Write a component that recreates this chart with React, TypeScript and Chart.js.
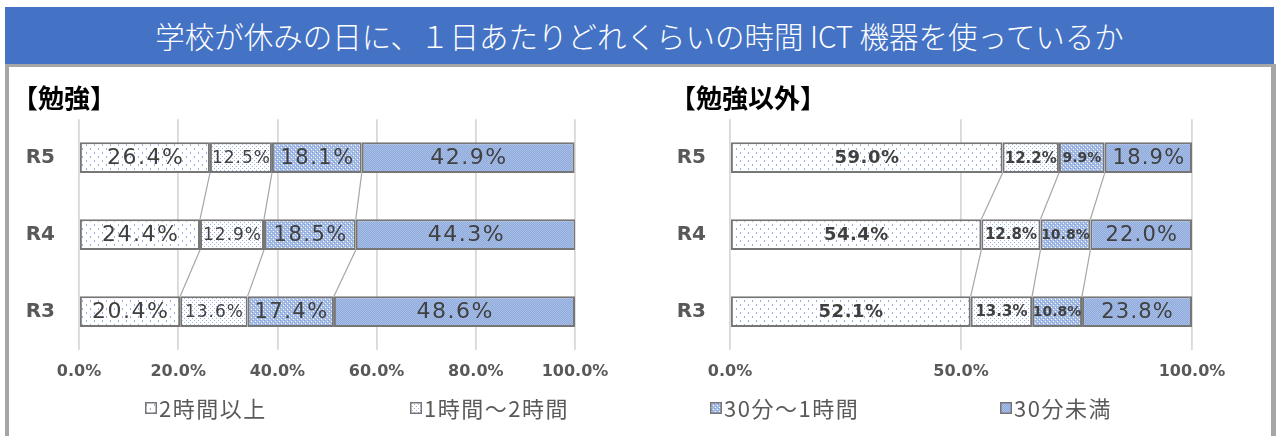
import React, { useEffect, useRef } from 'react';
import { Chart, registerables } from 'chart.js';

Chart.register(...registerables);

const pageTitle = '学校が休みの日に、１日あたりどれくらいの時間 ICT 機器を使っているか';
const categories = ['R5', 'R4', 'R3'];
const seriesNames = ['2時間以上', '1時間～2時間', '30分～1時間', '30分未満'];

const studyTitle = '【勉強】';
const studyOver2h = [26.4, 24.4, 20.4];
const study1to2h = [12.5, 12.9, 13.6];
const study30mTo1h = [18.1, 18.5, 17.4];
const studyUnder30m = [42.9, 44.3, 48.6];
const studyTicks = [0, 20, 40, 60, 80, 100];

const otherTitle = '【勉強以外】';
const otherOver2h = [59.0, 54.4, 52.1];
const other1to2h = [12.2, 12.8, 13.3];
const other30mTo1h = [9.9, 10.8, 10.8];
const otherUnder30m = [18.9, 22.0, 23.8];
const otherTicks = [0, 50, 100];

const FONT = '"Noto Sans CJK JP", "Noto Sans", sans-serif';
const NUMFONT = '"DejaVu Sans", "Noto Sans", sans-serif';

function makePattern(kind: number): CanvasPattern {
  const c = document.createElement('canvas');
  const ctx = c.getContext('2d')!;
  if (kind === 0) {
    c.width = 8; c.height = 8;
    ctx.fillStyle = '#ffffff'; ctx.fillRect(0, 0, 8, 8);
    ctx.fillStyle = '#94aede';
    ctx.fillRect(0, 0, 1, 2); ctx.fillRect(4, 4, 1, 2);
  } else if (kind === 1) {
    c.width = 4; c.height = 4;
    ctx.fillStyle = '#ffffff'; ctx.fillRect(0, 0, 4, 4);
    ctx.fillStyle = '#9cb4e2';
    ctx.fillRect(0, 0, 1, 1); ctx.fillRect(2, 2, 1, 1);
  } else if (kind === 2) {
    c.width = 4; c.height = 4;
    ctx.fillStyle = '#a4bbe5'; ctx.fillRect(0, 0, 4, 4);
    ctx.fillStyle = '#ffffff';
    ctx.fillRect(1, 1, 1, 1); ctx.fillRect(3, 3, 1, 1);
    ctx.fillStyle = '#86a3d8';
    ctx.fillRect(0, 2, 1, 1); ctx.fillRect(2, 0, 1, 1);
  } else {
    c.width = 2; c.height = 2;
    ctx.fillStyle = '#8eaadb'; ctx.fillRect(0, 0, 2, 2);
    ctx.fillStyle = '#aabfe7';
    ctx.fillRect(0, 0, 1, 1); ctx.fillRect(1, 1, 1, 1);
  }
  return ctx.createPattern(c, 'repeat')!;
}

type LabelFont = { size: number; weight: string; spacing: number };

type Spec = {
  title: string;
  values: number[][];
  ticks: number[];
  padLeft: number;
  yWidth: number;
  padRight: number;
  labelFonts: LabelFont[];
  legendItems: { index: number; x: number }[];
};

function buildConfig(spec: Spec): any {
  const patterns = [0, 1, 2, 3].map(makePattern);
  const datasets = spec.values.map((vals, i) => ({
    label: seriesNames[i],
    data: vals,
    backgroundColor: patterns[i],
    borderColor: '#767676',
    borderWidth: 2,
    borderSkipped: false,
    barPercentage: 0.4,
    categoryPercentage: 1,
  }));

  const overlay = {
    id: 'overlay',
    afterDatasetsDraw(chart: any) {
      const ctx = chart.ctx as any;
      ctx.save();
      ctx.strokeStyle = '#a6a6a6';
      ctx.lineWidth = 1.2;
      for (let di = 0; di < chart.data.datasets.length - 1; di++) {
        const meta = chart.getDatasetMeta(di);
        for (let i = 0; i < meta.data.length - 1; i++) {
          const a = meta.data[i];
          const b = meta.data[i + 1];
          ctx.beginPath();
          ctx.moveTo(a.x, a.y + a.height / 2);
          ctx.lineTo(b.x, b.y - b.height / 2);
          ctx.stroke();
        }
      }
      ctx.fillStyle = '#404040';
      ctx.textAlign = 'center';
      ctx.textBaseline = 'middle';
      chart.data.datasets.forEach((ds: any, di: number) => {
        const meta = chart.getDatasetMeta(di);
        const f = spec.labelFonts[di];
        ctx.font = `${f.weight} ${f.size}px ${NUMFONT}`;
        ctx.letterSpacing = `${f.spacing}px`;
        meta.data.forEach((bar: any, i: number) => {
          const cx = (bar.x + bar.base) / 2 + f.spacing / 2;
          ctx.fillText(Number(ds.data[i]).toFixed(1) + '%', cx, bar.y + 1);
        });
      });
      ctx.restore();
    },
    afterDraw(chart: any) {
      const ctx = chart.ctx as any;
      const ly = chart.chartArea.bottom + 58;
      ctx.save();
      spec.legendItems.forEach((item) => {
        const ds = chart.data.datasets[item.index];
        ctx.fillStyle = ds.backgroundColor;
        ctx.fillRect(item.x, ly - 6, 12, 12);
        ctx.strokeStyle = '#767676';
        ctx.lineWidth = 1.5;
        ctx.strokeRect(item.x + 0.75, ly - 5.25, 10.5, 10.5);
        ctx.fillStyle = '#595959';
        ctx.font = `normal 22px ${FONT}`;
        ctx.letterSpacing = '1.5px';
        ctx.textAlign = 'left';
        ctx.textBaseline = 'middle';
        ctx.fillText(ds.label, item.x + 14, ly + 1);
      });
      ctx.restore();
    },
  };

  return {
    type: 'bar',
    data: { labels: categories, datasets },
    plugins: [overlay],
    options: {
      indexAxis: 'y',
      responsive: false,
      animation: false,
      layout: { padding: { left: spec.padLeft, right: spec.padRight, top: 0, bottom: 46 } },
      plugins: {
        legend: { display: false },
        tooltip: { enabled: false },
        title: {
          display: true,
          text: spec.title,
          align: 'start',
          color: '#000000',
          font: { family: FONT, size: 26, weight: 'bold', lineHeight: 1.2 },
          padding: { top: 15, bottom: 5 },
        },
      },
      scales: {
        x: {
          stacked: true,
          min: 0,
          max: 100,
          border: { display: false },
          grid: { color: '#d9d9d9', lineWidth: 1.8, drawTicks: false },
          afterBuildTicks: (scale: any) => {
            scale.ticks = spec.ticks.map((v) => ({ value: v }));
          },
          afterFit: (scale: any) => { scale.height = 40; },
          ticks: {
            padding: 12,
            color: '#595959',
            font: { family: NUMFONT, size: 16, weight: 'bold' },
            callback: (v: any) => Number(v).toFixed(1) + '%',
            maxRotation: 0,
            autoSkip: false,
          },
        },
        y: {
          stacked: true,
          border: { display: false },
          grid: { display: false, drawTicks: false },
          afterFit: (scale: any) => { scale.width = spec.yWidth; },
          ticks: {
            padding: 24,
            color: '#595959',
            font: { family: NUMFONT, size: 20, weight: 'bold' },
          },
        },
      },
    },
  };
}

function BarChart({ spec, left }: { spec: Spec; left: number }) {
  const ref = useRef<HTMLCanvasElement>(null);
  useEffect(() => {
    const chart = new Chart(ref.current!, buildConfig(spec));
    return () => chart.destroy();
  }, []);
  return (
    <canvas
      ref={ref}
      width={630}
      height={368}
      style={{ position: 'fixed', left, top: 68, width: 630, height: 368 }}
    />
  );
}

const studySpec: Spec = {
  title: studyTitle,
  values: [studyOver2h, study1to2h, study30mTo1h, studyUnder30m],
  ticks: studyTicks,
  padLeft: 2,
  yWidth: 67,
  padRight: 65,
  labelFonts: [
    { size: 22, weight: 'normal', spacing: 1.5 },
    { size: 17, weight: 'normal', spacing: 1 },
    { size: 21, weight: 'normal', spacing: 1.5 },
    { size: 22, weight: 'normal', spacing: 1.5 },
  ],
  legendItems: [
    { index: 0, x: 135 },
    { index: 1, x: 400 },
  ],
};

const otherSpec: Spec = {
  title: otherTitle,
  values: [otherOver2h, other1to2h, other30mTo1h, otherUnder30m],
  ticks: otherTicks,
  padLeft: 30,
  yWidth: 60,
  padRight: 78,
  labelFonts: [
    { size: 18, weight: 'bold', spacing: 0.5 },
    { size: 15, weight: 'bold', spacing: 0 },
    { size: 14, weight: 'bold', spacing: 0 },
    { size: 21, weight: 'normal', spacing: 1.2 },
  ],
  legendItems: [
    { index: 2, x: 70 },
    { index: 3, x: 360 },
  ],
};

export default function App() {
  return (
    <div style={{ position: 'fixed', left: 0, top: 0, width: 1285, height: 436, background: '#ffffff', overflow: 'hidden' }}>
      <div
        style={{
          position: 'absolute',
          left: 5,
          top: 64,
          width: 1271,
          height: 400,
          boxSizing: 'border-box',
          borderLeft: '4px solid #a6a6a6',
          borderTop: '3px solid #a6a6a6',
          borderRight: '5px solid #a6a6a6',
        }}
      />
      <div
        style={{
          position: 'absolute',
          left: 5,
          top: 7,
          width: 1269,
          height: 57,
          background: '#4472c4',
          color: '#ffffff',
          fontFamily: FONT,
          fontWeight: 300,
          fontSize: 29.5,
          lineHeight: '57px',
          textAlign: 'center',
          whiteSpace: 'nowrap',
        }}
      >
        {pageTitle}
      </div>
      <BarChart spec={studySpec} left={10} />
      <BarChart spec={otherSpec} left={640} />
    </div>
  );
}
